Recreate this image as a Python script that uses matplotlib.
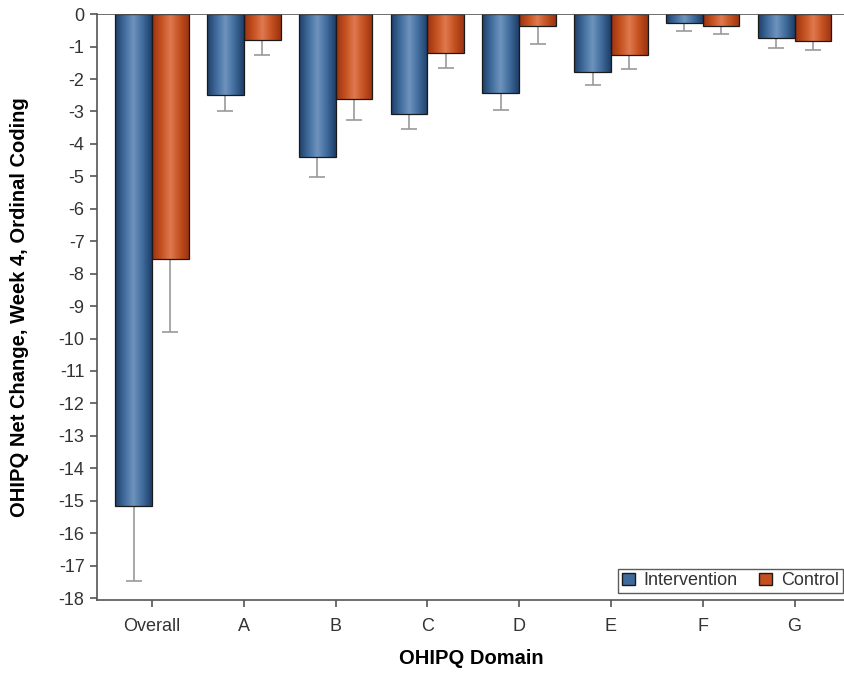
import numpy as np
import matplotlib.pyplot as plt
from matplotlib.colors import LinearSegmentedColormap
from matplotlib.patches import Patch

plt.rcParams['font.family'] = ['Liberation Sans', 'DejaVu Sans']

domains = ['Overall', 'A', 'B', 'C', 'D', 'E', 'F', 'G']
intervention = [-15.15, -2.5, -4.41, -3.09, -2.44, -1.78, -0.27, -0.74]
intervention_err = [2.32, 0.48, 0.62, 0.46, 0.52, 0.42, 0.24, 0.29]
control = [-7.56, -0.8, -2.62, -1.2, -0.37, -1.27, -0.37, -0.83]
control_err = [2.24, 0.47, 0.65, 0.47, 0.56, 0.43, 0.23, 0.27]

blue_cmap = LinearSegmentedColormap.from_list('b', ['#1d3d66', '#3f6b9c', '#6f94bd', '#3f6b9c', '#1d3d66'])
red_cmap = LinearSegmentedColormap.from_list('r', ['#9a3210', '#c4501f', '#e07a50', '#c4501f', '#9a3210'])


def gradient_bars(ax, bars, cmap):
    grad = np.linspace(0, 1, 256).reshape(1, -1)
    for b in bars:
        x0, y0 = b.get_x(), b.get_y()
        w, h = b.get_width(), b.get_height()
        im = ax.imshow(grad, cmap=cmap, aspect='auto', extent=[x0, x0 + w, y0, y0 + h],
                       zorder=2, interpolation='bicubic')
        im.set_clip_path(b)
        b.set_facecolor('none')


fig = plt.figure(figsize=(8.45, 6.73), dpi=100)
ax = fig.add_axes([0.1148, 0.1085, 0.8852, 0.8705])

x = np.arange(len(domains))
w = 0.4
b1 = ax.bar(x - w / 2, intervention, w, edgecolor='#1a1a1a', linewidth=0.9, zorder=3)
b2 = ax.bar(x + w / 2, control, w, edgecolor='#1a1a1a', linewidth=0.9, zorder=3)
gradient_bars(ax, b1, blue_cmap)
gradient_bars(ax, b2, red_cmap)

ax.errorbar(x - w / 2, intervention, yerr=[intervention_err, np.zeros(len(x))], fmt='none',
            ecolor='#9a9a9a', elinewidth=1.2, capsize=6, capthick=1.2, zorder=1)
ax.errorbar(x + w / 2, control, yerr=[control_err, np.zeros(len(x))], fmt='none',
            ecolor='#9a9a9a', elinewidth=1.2, capsize=6, capthick=1.2, zorder=1)

ax.set_xlim(-0.6, 7.55)
ax.set_ylim(-18.06, 0)
ax.set_yticks(np.arange(0, -19, -1))
ax.set_yticklabels([str(v) for v in range(0, -19, -1)])
ax.set_xticks(x)
ax.set_xticklabels(domains)
ax.tick_params(labelsize=13, colors='#555555', labelcolor='#333333', length=5, width=1.2)
ax.tick_params(axis='x', pad=8)
ax.tick_params(axis='y', pad=4)

ax.axhline(0, color='#555555', linewidth=1.2, zorder=4)
for s in ['top', 'right']:
    ax.spines[s].set_visible(False)
for s in ['left', 'bottom']:
    ax.spines[s].set_color('#555555')
    ax.spines[s].set_linewidth(1.2)

ax.set_ylabel('OHIPQ Net Change, Week 4, Ordinal Coding', fontsize=14.5, fontweight='bold', labelpad=21)
ax.set_xlabel('OHIPQ Domain', fontsize=14.5, fontweight='bold', labelpad=10)

handles = [Patch(facecolor='#3f6b9c', edgecolor='#1a1a1a', label='Intervention'),
           Patch(facecolor='#c4501f', edgecolor='#1a1a1a', label='Control')]
leg = ax.legend(handles=handles, loc='lower right', ncol=2, fontsize=13, frameon=True, fancybox=False,
                edgecolor='#333333', handlelength=0.7, handleheight=0.7, handletextpad=0.5,
                columnspacing=1.2, borderpad=0.2, borderaxespad=0, bbox_to_anchor=(0.997, 0.012))
leg.get_frame().set_linewidth(1.0)
for t in leg.get_texts():
    t.set_color('#333333')

fig.savefig('out.png', dpi=100)
